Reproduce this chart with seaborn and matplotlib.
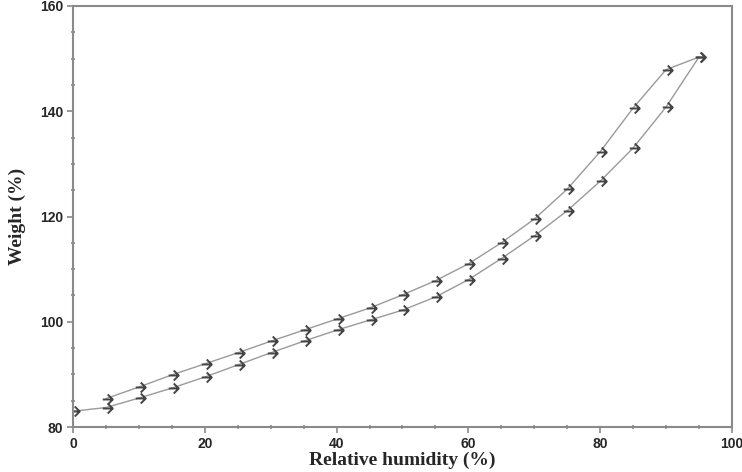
import pandas as pd
import matplotlib.pyplot as plt
import seaborn as sns
from matplotlib.path import Path
from matplotlib.ticker import MultipleLocator

# sorption branch (lower curve), 0 -> 95 % RH
rh_sorp = [0, 5, 10, 15, 20, 25, 30, 35, 40, 45, 50, 55, 60, 65, 70, 75, 80, 85, 90, 95]
w_sorp = [83.0, 83.7, 85.5, 87.4, 89.5, 91.8, 94.1, 96.3, 98.4, 100.3, 102.2, 104.7,
          108.0, 112.0, 116.3, 121.1, 126.7, 133.0, 140.8, 150.3]

# desorption branch (upper curve), 95 -> 5 % RH
rh_desorp = [95, 90, 85, 80, 75, 70, 65, 60, 55, 50, 45, 40, 35, 30, 25, 20, 15, 10, 5]
w_desorp = [150.3, 147.9, 140.6, 132.3, 125.2, 119.5, 115.0, 111.0, 107.8, 105.1,
            102.6, 100.5, 98.4, 96.3, 94.1, 92.0, 89.9, 87.6, 85.4]

df_sorp = pd.DataFrame({'RH': rh_sorp, 'Weight': w_sorp})
df_desorp = pd.DataFrame({'RH': rh_desorp, 'Weight': w_desorp})

# small open arrow marker: short stem + chevron head
arrow = Path([(-0.6, 0), (1, 0), (0.2, 0.8), (1, 0), (0.2, -0.8)],
             [Path.MOVETO, Path.LINETO, Path.MOVETO, Path.LINETO, Path.LINETO])

sns.set_style('white')

fig = plt.figure(figsize=(7.42, 4.72), dpi=100)
ax = fig.add_axes([0.0984, 0.0953, 0.888, 0.892])

for d in [df_sorp, df_desorp]:
    sns.lineplot(data=d, x='RH', y='Weight', sort=False, ax=ax,
                 color='#9a9a9a', linewidth=1.0,
                 marker=arrow, markersize=9, fillstyle='none',
                 markeredgecolor='#444444', markeredgewidth=1.4)

ax.set_xlim(0, 100)
ax.set_ylim(80, 160)
ax.xaxis.set_major_locator(MultipleLocator(20))
ax.xaxis.set_minor_locator(MultipleLocator(5))
ax.yaxis.set_major_locator(MultipleLocator(20))
ax.yaxis.set_minor_locator(MultipleLocator(5))

for s in ax.spines.values():
    s.set_color('#8a8a8a')
    s.set_linewidth(1.5)

ax.tick_params(which='major', direction='out', length=4, width=1.2, color='#8a8a8a',
               left=True, bottom=True, pad=3)
ax.tick_params(which='minor', direction='inout', length=3, width=1.2, color='#8a8a8a',
               left=True, bottom=True)
for lab in ax.get_xticklabels() + ax.get_yticklabels():
    lab.set_fontfamily('Liberation Sans')
    lab.set_fontweight('bold')
    lab.set_fontsize(10)

ax.set_xlabel('Relative humidity (%)', fontfamily='Liberation Serif',
              fontweight='bold', fontsize=14, labelpad=1)
ax.set_ylabel('Weight (%)', fontfamily='Liberation Serif',
              fontweight='bold', fontsize=14, labelpad=10)

plt.savefig('out.png', dpi=100)
